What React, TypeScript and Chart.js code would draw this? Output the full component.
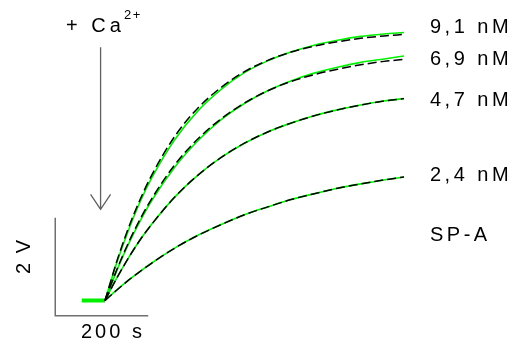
import React, { useEffect, useRef } from "react";
import { Chart, registerables } from "chart.js";

Chart.register(...registerables);

// Time after Ca2+ addition (s)
const TIME_S = [0, 25, 50, 75, 100, 150, 200, 250, 300, 350, 400, 450, 500, 550, 600, 643];

// Recorded signal (V) for each SP-A concentration
const TRACE_91 = [0, 0.76, 1.42, 2.0, 2.49, 3.28, 3.87, 4.31, 4.65, 4.89, 5.07, 5.21, 5.31, 5.39, 5.44, 5.47];
const TRACE_69 = [0, 0.6, 1.14, 1.61, 2.03, 2.72, 3.26, 3.69, 4.02, 4.28, 4.48, 4.64, 4.76, 4.86, 4.93, 4.99];
const TRACE_47 = [0, 0.45, 0.86, 1.23, 1.55, 2.11, 2.56, 2.92, 3.21, 3.44, 3.62, 3.77, 3.89, 3.99, 4.07, 4.12];
const TRACE_24 = [0, 0.21, 0.41, 0.59, 0.76, 1.07, 1.33, 1.55, 1.75, 1.91, 2.06, 2.18, 2.29, 2.38, 2.46, 2.52];

// Fitted curves (V)
const FIT_91 = [0, 0.79, 1.47, 2.05, 2.55, 3.35, 3.93, 4.35, 4.67, 4.9, 5.07, 5.19, 5.28, 5.35, 5.4, 5.43];
const FIT_69 = [0, 0.62, 1.17, 1.65, 2.07, 2.77, 3.3, 3.71, 4.03, 4.28, 4.47, 4.61, 4.72, 4.81, 4.88, 4.92];
const FIT_47 = [0, 0.45, 0.86, 1.23, 1.55, 2.11, 2.56, 2.92, 3.21, 3.44, 3.62, 3.77, 3.89, 3.99, 4.07, 4.12];
const FIT_24 = [0, 0.21, 0.41, 0.59, 0.76, 1.07, 1.33, 1.55, 1.75, 1.91, 2.06, 2.18, 2.29, 2.38, 2.46, 2.52];

// Pre-addition baseline
const BASELINE_T = [-50, 0];
const BASELINE_V = [0, 0];

// Right-hand labels
const CONC_LABELS = ["9,1 nM", "6,9 nM", "4,7 nM", "2,4 nM", "SP-A"];

// Scale bars
const BAR_TIME_S = 200;
const BAR_VOLT = 2;

const GREEN = "#00f000";
const FONT = "'Liberation Sans', Arial, sans-serif";

const pts = (xs: number[], ys: number[]) => xs.map((x, i) => ({ x, y: ys[i] }));

const annotations = {
  id: "figureAnnotations",
  afterDatasetsDraw(chart: any) {
    const { ctx } = chart;
    const xs = chart.scales.x;
    const ys = chart.scales.y;
    const px = (t: number) => xs.getPixelForValue(t);
    const py = (v: number) => ys.getPixelForValue(v);
    ctx.save();

    // scale bars
    const bx0 = -107;
    const by0 = -0.31;
    ctx.strokeStyle = "#707070";
    ctx.lineWidth = 1.5;
    ctx.beginPath();
    ctx.moveTo(px(bx0), py(by0 + BAR_VOLT));
    ctx.lineTo(px(bx0), py(by0));
    ctx.lineTo(px(bx0 + BAR_TIME_S), py(by0));
    ctx.stroke();

    // addition arrow
    const ax = px(-9.5);
    const aTop = py(5.17);
    const aTip = py(1.86);
    ctx.strokeStyle = "#606060";
    ctx.lineWidth = 1.3;
    ctx.beginPath();
    ctx.moveTo(ax, aTop);
    ctx.lineTo(ax, aTip);
    ctx.moveTo(ax - 10, aTip - 15);
    ctx.lineTo(ax, aTip);
    ctx.lineTo(ax + 10, aTip - 15);
    ctx.stroke();

    ctx.fillStyle = "#000";
    ctx.textBaseline = "middle";
    ctx.textAlign = "left";
    ctx.font = `20px ${FONT}`;
    (ctx as any).letterSpacing = "3.5px";

    // concentration labels
    const labelY = [27, 59, 100, 175, 235];
    CONC_LABELS.forEach((s, i) => ctx.fillText(s, 430, labelY[i]));

    // + Ca2+
    (ctx as any).letterSpacing = "4px";
    ctx.fillText("+ Ca", 66, 26);
    ctx.font = `13px ${FONT}`;
    (ctx as any).letterSpacing = "1.5px";
    ctx.fillText("2+", 124, 15);

    // bar labels
    ctx.font = `20px ${FONT}`;
    (ctx as any).letterSpacing = "3px";
    ctx.fillText(`${BAR_TIME_S} s`, 81, 332);
    ctx.save();
    ctx.translate(24, 256);
    ctx.rotate(-Math.PI / 2);
    ctx.textAlign = "center";
    (ctx as any).letterSpacing = "2px";
    ctx.fillText(`${BAR_VOLT} V`, 0, 0);
    ctx.restore();

    ctx.restore();
  },
};

export default function App() {
  const ref = useRef<HTMLCanvasElement | null>(null);

  useEffect(() => {
    if (!ref.current) return;
    const trace = (d: number[]) => ({
      data: pts(TIME_S, d),
      borderColor: GREEN,
      borderWidth: 1.6,
      pointRadius: 0,
      cubicInterpolationMode: "monotone" as const,
      order: 2,
    });
    const fit = (d: number[]) => ({
      data: pts(TIME_S, d),
      borderColor: "#000",
      borderWidth: 1.5,
      borderDash: [9, 4],
      pointRadius: 0,
      cubicInterpolationMode: "monotone" as const,
      order: 1,
    });
    const chart = new Chart(ref.current, {
      type: "line",
      data: {
        datasets: [
          {
            data: pts(BASELINE_T, BASELINE_V),
            borderColor: GREEN,
            borderWidth: 4,
            pointRadius: 0,
            order: 3,
          },
          trace(TRACE_91),
          trace(TRACE_69),
          trace(TRACE_47),
          trace(TRACE_24),
          fit(FIT_91),
          fit(FIT_69),
          fit(FIT_47),
          fit(FIT_24),
        ],
      },
      options: {
        animation: false,
        responsive: false,
        layout: { padding: 0 },
        plugins: { legend: { display: false }, tooltip: { enabled: false } },
        scales: {
          x: { type: "linear", min: -105 / 0.465, max: 408 / 0.465, display: false },
          y: { type: "linear", min: -41.5 / 49, max: 300.5 / 49, display: false },
        },
      },
      plugins: [annotations],
    });
    return () => chart.destroy();
  }, []);

  return (
    <div style={{ position: "fixed", left: 0, top: 0, width: 513, height: 342, background: "#fff" }}>
      <canvas ref={ref} width={513} height={342} />
    </div>
  );
}
